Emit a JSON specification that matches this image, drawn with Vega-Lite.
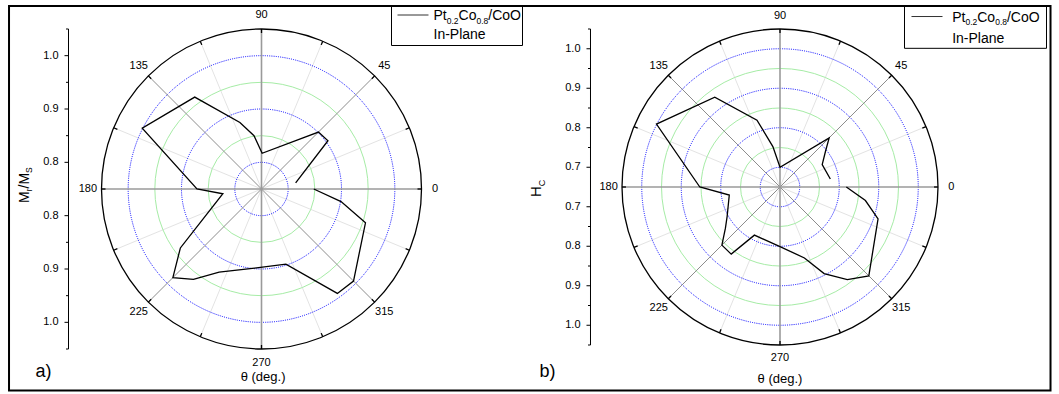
{
  "$schema": "https://vega.github.io/schema/vega-lite/v6.json",
  "padding": {"left": 7.5, "top": 5, "right": 0, "bottom": 0},
  "bounds": "flush",
  "spacing": 200.5,
  "config": {"view": {"stroke": null}, "font": "Liberation Sans"},
  "resolve": {"scale": {"x": "independent", "y": "independent", "size": "independent"}},
  "datasets": {
    "a": [{"angle":10,"r":0.815},{"angle":36,"r":0.904},{"angle":45,"r":0.901},{"angle":89,"r":0.817},{"angle":98,"r":0.851},{"angle":108,"r":0.881},{"angle":126,"r":0.963},{"angle":153,"r":1.001},{"angle":180,"r":0.871},{"angle":187,"r":0.823},{"angle":216,"r":0.938},{"angle":225,"r":0.985},{"angle":233,"r":0.962},{"angle":243,"r":0.925},{"angle":265,"r":0.899},{"angle":288,"r":0.898},{"angle":306,"r":0.992},{"angle":315,"r":0.994},{"angle":342,"r":0.955},{"angle":351,"r":0.901},{"angle":360,"r":0.848}],
    "b": [{"angle":9,"r":0.779},{"angle":28,"r":0.771},{"angle":38,"r":0.796},{"angle":45,"r":0.826},{"angle":90,"r":0.700},{"angle":100,"r":0.754},{"angle":109,"r":0.829},{"angle":126,"r":0.931},{"angle":153,"r":1.001},{"angle":180,"r":0.853},{"angle":189,"r":0.780},{"angle":209,"r":0.803},{"angle":217,"r":0.823},{"angle":225,"r":0.858},{"angle":234,"r":0.860},{"angle":242,"r":0.788},{"angle":270,"r":0.801},{"angle":289,"r":0.840},{"angle":297,"r":0.896},{"angle":306,"r":0.940},{"angle":315,"r":0.968},{"angle":342,"r":0.911},{"angle":351,"r":0.869},{"angle":360,"r":0.818}],
    "diam": [{"angle":0},{"angle":22.5},{"angle":45},{"angle":67.5},{"angle":90},{"angle":112.5},{"angle":135},{"angle":157.5}],
    "spokes": [{"angle":0},{"angle":22.5},{"angle":45},{"angle":67.5},{"angle":90},{"angle":112.5},{"angle":135},{"angle":157.5},{"angle":180},{"angle":202.5},{"angle":225},{"angle":247.5},{"angle":270},{"angle":292.5},{"angle":315},{"angle":337.5}],
    "alabels": [{"angle":0,"label":"0"},{"angle":45,"label":"45"},{"angle":90,"label":"90"},{"angle":135,"label":"135"},{"angle":180,"label":"180"},{"angle":225,"label":"225"},{"angle":270,"label":"270"},{"angle":315,"label":"315"}],
    "ringsAmajor": [{"r":0.8},{"r":0.9},{"r":1.0}],
    "ringsAminor": [{"r":0.85},{"r":0.95}],
    "ticksAminor": [{"r":0.85},{"r":0.95},{"r":1.05}],
    "ringsBmajor": [{"r":0.7},{"r":0.8},{"r":0.9},{"r":1.0}],
    "ringsBminor": [{"r":0.75},{"r":0.85},{"r":0.95}],
    "ticksBminor": [{"r":0.75},{"r":0.85},{"r":0.95},{"r":1.05}],
    "outer": [{"r":1.05}],
    "one": [{}]
  },
  "hconcat": [
    {
      "width": 320,
      "height": 320,
      "layer": [
        {"data": {"name": "a"}, "transform": [{"calculate": "(datum.r-0.75)*cos(datum.angle*PI/180)", "as": "px"}, {"calculate": "(datum.r-0.75)*sin(datum.angle*PI/180)", "as": "py"}],
         "mark": {"type": "line", "color": "black", "strokeWidth": 1.3, "opacity": 0},
         "encoding": {
           "x": {"field": "px", "type": "quantitative", "scale": {"domain": [-0.3, 0.3], "nice": false, "zero": false}, "axis": null},
           "y": {"field": "py", "type": "quantitative", "scale": {"domain": [-0.3, 0.3], "nice": false, "zero": false}, "axis": null},
           "order": {"field": "angle", "type": "quantitative"}}},
        {"data": {"name": "diam"}, "transform": [{"filter": "datum.angle % 45 != 0"}, {"calculate": "0.3*cos(datum.angle*PI/180)", "as": "ex"}, {"calculate": "0.3*sin(datum.angle*PI/180)", "as": "ey"}, {"calculate": "-datum.ex", "as": "sx"}, {"calculate": "-datum.ey", "as": "sy"}],
         "mark": {"type": "rule", "color": "#e3e3e3", "strokeWidth": 1},
         "encoding": {"x": {"field": "sx", "type": "quantitative", "axis": null}, "y": {"field": "sy", "type": "quantitative", "axis": null}, "x2": {"field": "ex"}, "y2": {"field": "ey"}}},
        {"data": {"name": "ringsAminor"}, "transform": [{"calculate": "datum.r-0.75", "as": "rr"}],
         "mark": {"type": "point", "shape": "circle", "filled": false, "opacity": 1, "stroke": "#a6eca6", "strokeWidth": 1},
         "encoding": {"x": {"datum": 0, "type": "quantitative", "axis": null}, "y": {"datum": 0, "type": "quantitative", "axis": null},
                      "size": {"field": "rr", "type": "quantitative", "legend": null, "scale": {"type": "pow", "exponent": 2, "zero": true, "domain": [0, 0.3], "range": [0, 102400]}}}},
        {"data": {"name": "ringsAmajor"}, "transform": [{"calculate": "datum.r-0.75", "as": "rr"}],
         "mark": {"type": "point", "shape": "circle", "filled": false, "opacity": 1, "stroke": "#0000ff", "strokeWidth": 1, "strokeDash": [1, 1.2]},
         "encoding": {"x": {"datum": 0, "type": "quantitative", "axis": null}, "y": {"datum": 0, "type": "quantitative", "axis": null},
                      "size": {"field": "rr", "type": "quantitative", "legend": null, "scale": {"type": "pow", "exponent": 2, "zero": true, "domain": [0, 0.3], "range": [0, 102400]}}}},
        {"data": {"name": "diam"}, "transform": [{"filter": "datum.angle % 90 == 45"}, {"calculate": "0.3*cos(datum.angle*PI/180)", "as": "ex"}, {"calculate": "0.3*sin(datum.angle*PI/180)", "as": "ey"}, {"calculate": "-datum.ex", "as": "sx"}, {"calculate": "-datum.ey", "as": "sy"}],
         "mark": {"type": "rule", "color": "#8c8c8c", "strokeWidth": 1},
         "encoding": {"x": {"field": "sx", "type": "quantitative", "axis": null}, "y": {"field": "sy", "type": "quantitative", "axis": null}, "x2": {"field": "ex"}, "y2": {"field": "ey"}}},
        {"data": {"name": "diam"}, "transform": [{"filter": "datum.angle % 90 == 0"}, {"calculate": "0.3*cos(datum.angle*PI/180)", "as": "ex"}, {"calculate": "0.3*sin(datum.angle*PI/180)", "as": "ey"}, {"calculate": "-datum.ex", "as": "sx"}, {"calculate": "-datum.ey", "as": "sy"}],
         "mark": {"type": "rule", "color": "#9a9a9a", "strokeWidth": 1.6},
         "encoding": {"x": {"field": "sx", "type": "quantitative", "axis": null}, "y": {"field": "sy", "type": "quantitative", "axis": null}, "x2": {"field": "ex"}, "y2": {"field": "ey"}}},
        {"data": {"name": "outer"}, "transform": [{"calculate": "datum.r-0.75", "as": "rr"}],
         "mark": {"type": "point", "shape": "circle", "filled": false, "opacity": 1, "stroke": "black", "strokeWidth": 1.3},
         "encoding": {"x": {"datum": 0, "type": "quantitative", "axis": null}, "y": {"datum": 0, "type": "quantitative", "axis": null},
                      "size": {"field": "rr", "type": "quantitative", "legend": null, "scale": {"type": "pow", "exponent": 2, "zero": true, "domain": [0, 0.3], "range": [0, 102400]}}}},
        {"data": {"name": "spokes"}, "transform": [{"calculate": "0.2925*cos(datum.angle*PI/180)", "as": "sx"}, {"calculate": "0.2925*sin(datum.angle*PI/180)", "as": "sy"}, {"calculate": "0.3*cos(datum.angle*PI/180)", "as": "ex"}, {"calculate": "0.3*sin(datum.angle*PI/180)", "as": "ey"}],
         "mark": {"type": "rule", "color": "black", "strokeWidth": 1.3},
         "encoding": {"x": {"field": "sx", "type": "quantitative", "axis": null}, "y": {"field": "sy", "type": "quantitative", "axis": null}, "x2": {"field": "ex"}, "y2": {"field": "ey"}}},
        {"data": {"name": "a"}, "transform": [{"calculate": "(datum.r-0.75)*cos(datum.angle*PI/180)", "as": "px"}, {"calculate": "(datum.r-0.75)*sin(datum.angle*PI/180)", "as": "py"}],
         "mark": {"type": "line", "color": "black", "strokeWidth": 1.3},
         "encoding": {"x": {"field": "px", "type": "quantitative", "axis": null}, "y": {"field": "py", "type": "quantitative", "axis": null}, "order": {"field": "angle", "type": "quantitative"}}},
        {"data": {"name": "alabels"}, "transform": [{"calculate": "0.3255*cos(datum.angle*PI/180)", "as": "lx"}, {"calculate": "0.3255*sin(datum.angle*PI/180)", "as": "ly"}],
         "mark": {"type": "text", "fontSize": 11, "color": "black", "align": "center", "baseline": "middle"},
         "encoding": {"x": {"field": "lx", "type": "quantitative", "axis": null}, "y": {"field": "ly", "type": "quantitative", "axis": null}, "text": {"field": "label", "type": "nominal"}}},
        {"data": {"name": "outer"}, "transform": [{"calculate": "-0.361875", "as": "ax"}, {"calculate": "datum.r-0.75", "as": "ya"}, {"calculate": "0.75-datum.r", "as": "yb"}],
         "mark": {"type": "rule", "color": "black", "strokeWidth": 1},
         "encoding": {"x": {"field": "ax", "type": "quantitative", "axis": null}, "y": {"field": "ya", "type": "quantitative", "axis": null}, "y2": {"field": "yb"}}},
        {"data": {"name": "ringsAmajor"}, "transform": [{"calculate": "-0.369375", "as": "t1"}, {"calculate": "-0.361875", "as": "t2"}, {"calculate": "datum.r-0.75", "as": "ty"}],
         "mark": {"type": "rule", "color": "black", "strokeWidth": 1},
         "encoding": {"x": {"field": "t1", "type": "quantitative", "axis": null}, "x2": {"field": "t2"}, "y": {"field": "ty", "type": "quantitative", "axis": null}}},
        {"data": {"name": "ringsAmajor"}, "transform": [{"calculate": "-0.369375", "as": "t1"}, {"calculate": "-0.361875", "as": "t2"}, {"calculate": "0.75-datum.r", "as": "ty"}],
         "mark": {"type": "rule", "color": "black", "strokeWidth": 1},
         "encoding": {"x": {"field": "t1", "type": "quantitative", "axis": null}, "x2": {"field": "t2"}, "y": {"field": "ty", "type": "quantitative", "axis": null}}},
        {"data": {"name": "ticksAminor"}, "transform": [{"calculate": "-0.3665625", "as": "t1"}, {"calculate": "-0.361875", "as": "t2"}, {"calculate": "datum.r-0.75", "as": "ty"}],
         "mark": {"type": "rule", "color": "black", "strokeWidth": 1},
         "encoding": {"x": {"field": "t1", "type": "quantitative", "axis": null}, "x2": {"field": "t2"}, "y": {"field": "ty", "type": "quantitative", "axis": null}}},
        {"data": {"name": "ticksAminor"}, "transform": [{"calculate": "-0.3665625", "as": "t1"}, {"calculate": "-0.361875", "as": "t2"}, {"calculate": "0.75-datum.r", "as": "ty"}],
         "mark": {"type": "rule", "color": "black", "strokeWidth": 1},
         "encoding": {"x": {"field": "t1", "type": "quantitative", "axis": null}, "x2": {"field": "t2"}, "y": {"field": "ty", "type": "quantitative", "axis": null}}},
        {"data": {"name": "ringsAmajor"}, "transform": [{"calculate": "-0.380625", "as": "tx"}, {"calculate": "datum.r-0.75", "as": "ty"}],
         "mark": {"type": "text", "fontSize": 11, "color": "black", "align": "right", "baseline": "middle"},
         "encoding": {"x": {"field": "tx", "type": "quantitative", "axis": null}, "y": {"field": "ty", "type": "quantitative", "axis": null}, "text": {"field": "r", "type": "quantitative", "format": ".1f"}}},
        {"data": {"name": "ringsAmajor"}, "transform": [{"calculate": "-0.380625", "as": "tx"}, {"calculate": "0.75-datum.r", "as": "ty"}],
         "mark": {"type": "text", "fontSize": 11, "color": "black", "align": "right", "baseline": "middle"},
         "encoding": {"x": {"field": "tx", "type": "quantitative", "axis": null}, "y": {"field": "ty", "type": "quantitative", "axis": null}, "text": {"field": "r", "type": "quantitative", "format": ".1f"}}},
        {"data": {"name": "one"}, "transform": [{"calculate": "0.24375", "as": "bx1"}, {"calculate": "0.48938", "as": "bx2"}, {"calculate": "0.3431", "as": "by1"}, {"calculate": "0.26906", "as": "by2"}],
         "mark": {"type": "rect", "filled": false, "stroke": "black", "strokeWidth": 1},
         "encoding": {"x": {"field": "bx1", "type": "quantitative", "axis": null}, "x2": {"field": "bx2"}, "y": {"field": "by1", "type": "quantitative", "axis": null}, "y2": {"field": "by2"}}},
        {"data": {"name": "one"}, "transform": [{"calculate": "0.255", "as": "lx1"}, {"calculate": "0.3131", "as": "lx2"}, {"calculate": "0.32625", "as": "ly1"}],
         "mark": {"type": "rule", "stroke": "#333333", "strokeWidth": 1},
         "encoding": {"x": {"field": "lx1", "type": "quantitative", "axis": null}, "x2": {"field": "lx2"}, "y": {"field": "ly1", "type": "quantitative", "axis": null}}},
        {"data": {"name": "one"}, "mark": {"type": "text", "text": "Pt", "fontSize": 14, "align": "left", "baseline": "alphabetic", "color": "black"},
         "encoding": {"x": {"datum": 0.3225, "type": "quantitative", "axis": null}, "y": {"datum": 0.31688, "type": "quantitative", "axis": null}}},
        {"data": {"name": "one"}, "mark": {"type": "text", "text": "0.2", "fontSize": 8.5, "align": "left", "baseline": "alphabetic", "color": "black"},
         "encoding": {"x": {"datum": 0.34731, "type": "quantitative", "axis": null}, "y": {"datum": 0.31031, "type": "quantitative", "axis": null}}},
        {"data": {"name": "one"}, "mark": {"type": "text", "text": "Co", "fontSize": 14, "align": "left", "baseline": "alphabetic", "color": "black"},
         "encoding": {"x": {"datum": 0.36947, "type": "quantitative", "axis": null}, "y": {"datum": 0.31688, "type": "quantitative", "axis": null}}},
        {"data": {"name": "one"}, "mark": {"type": "text", "text": "0.8", "fontSize": 8.5, "align": "left", "baseline": "alphabetic", "color": "black"},
         "encoding": {"x": {"datum": 0.40303, "type": "quantitative", "axis": null}, "y": {"datum": 0.31031, "type": "quantitative", "axis": null}}},
        {"data": {"name": "one"}, "mark": {"type": "text", "text": "/CoO", "fontSize": 14, "align": "left", "baseline": "alphabetic", "color": "black"},
         "encoding": {"x": {"datum": 0.42519, "type": "quantitative", "axis": null}, "y": {"datum": 0.31688, "type": "quantitative", "axis": null}}},
        {"data": {"name": "one"}, "mark": {"type": "text", "text": "In-Plane", "fontSize": 14, "align": "left", "baseline": "alphabetic", "color": "black"},
         "encoding": {"x": {"datum": 0.3225, "type": "quantitative", "axis": null}, "y": {"datum": 0.2807, "type": "quantitative", "axis": null}}},
        {"data": {"name": "one"}, "mark": {"type": "text", "text": "M", "fontSize": 14, "angle": 270, "align": "left", "baseline": "alphabetic", "color": "black"},
         "encoding": {"x": {"datum": -0.43594, "type": "quantitative", "axis": null}, "y": {"datum": -0.02625, "type": "quantitative", "axis": null}}},
        {"data": {"name": "one"}, "mark": {"type": "text", "text": "r", "fontSize": 8.5, "angle": 270, "align": "left", "baseline": "alphabetic", "color": "black"},
         "encoding": {"x": {"datum": -0.43031, "type": "quantitative", "axis": null}, "y": {"datum": -0.00439, "type": "quantitative", "axis": null}}},
        {"data": {"name": "one"}, "mark": {"type": "text", "text": "/M", "fontSize": 14, "angle": 270, "align": "left", "baseline": "alphabetic", "color": "black"},
         "encoding": {"x": {"datum": -0.43594, "type": "quantitative", "axis": null}, "y": {"datum": 0.00094, "type": "quantitative", "axis": null}}},
        {"data": {"name": "one"}, "mark": {"type": "text", "text": "S", "fontSize": 8.5, "angle": 270, "align": "left", "baseline": "alphabetic", "color": "black"},
         "encoding": {"x": {"datum": -0.43031, "type": "quantitative", "axis": null}, "y": {"datum": 0.03009, "type": "quantitative", "axis": null}}},
        {"data": {"name": "one"}, "mark": {"type": "text", "text": "a)", "fontSize": 18, "align": "left", "baseline": "alphabetic", "color": "black"},
         "encoding": {"x": {"datum": -0.42375, "type": "quantitative", "axis": null}, "y": {"datum": -0.3525, "type": "quantitative", "axis": null}}},
        {"data": {"name": "one"}, "mark": {"type": "text", "text": "θ (deg.)", "fontSize": 13, "align": "center", "baseline": "alphabetic", "color": "black"},
         "encoding": {"x": {"datum": 0.003, "type": "quantitative", "axis": null}, "y": {"datum": -0.3609, "type": "quantitative", "axis": null}}},
        {"data": {"name": "one"}, "transform": [{"calculate": "-0.4734", "as": "fx1"}, {"calculate": "1.4794", "as": "fx2"}, {"calculate": "0.3431", "as": "fy1"}, {"calculate": "-0.3778", "as": "fy2"}],
         "mark": {"type": "rect", "filled": false, "stroke": "black", "strokeWidth": 2},
         "encoding": {"x": {"field": "fx1", "type": "quantitative", "axis": null}, "x2": {"field": "fx2"}, "y": {"field": "fy1", "type": "quantitative", "axis": null}, "y2": {"field": "fy2"}}}
      ]
    },
    {
      "width": 316,
      "height": 316,
      "layer": [
        {"data": {"name": "b"}, "transform": [{"calculate": "(datum.r-0.65)*cos(datum.angle*PI/180)", "as": "px"}, {"calculate": "(datum.r-0.65)*sin(datum.angle*PI/180)", "as": "py"}],
         "mark": {"type": "line", "color": "black", "strokeWidth": 1.3, "opacity": 0},
         "encoding": {
           "x": {"field": "px", "type": "quantitative", "scale": {"domain": [-0.4, 0.4], "nice": false, "zero": false}, "axis": null},
           "y": {"field": "py", "type": "quantitative", "scale": {"domain": [-0.4, 0.4], "nice": false, "zero": false}, "axis": null},
           "order": {"field": "angle", "type": "quantitative"}}},
        {"data": {"name": "diam"}, "transform": [{"filter": "datum.angle % 45 != 0"}, {"calculate": "0.4*cos(datum.angle*PI/180)", "as": "ex"}, {"calculate": "0.4*sin(datum.angle*PI/180)", "as": "ey"}, {"calculate": "-datum.ex", "as": "sx"}, {"calculate": "-datum.ey", "as": "sy"}],
         "mark": {"type": "rule", "color": "#e3e3e3", "strokeWidth": 1},
         "encoding": {"x": {"field": "sx", "type": "quantitative", "axis": null}, "y": {"field": "sy", "type": "quantitative", "axis": null}, "x2": {"field": "ex"}, "y2": {"field": "ey"}}},
        {"data": {"name": "ringsBminor"}, "transform": [{"calculate": "datum.r-0.65", "as": "rr"}],
         "mark": {"type": "point", "shape": "circle", "filled": false, "opacity": 1, "stroke": "#a6eca6", "strokeWidth": 1},
         "encoding": {"x": {"datum": 0, "type": "quantitative", "axis": null}, "y": {"datum": 0, "type": "quantitative", "axis": null},
                      "size": {"field": "rr", "type": "quantitative", "legend": null, "scale": {"type": "pow", "exponent": 2, "zero": true, "domain": [0, 0.4], "range": [0, 99856]}}}},
        {"data": {"name": "ringsBmajor"}, "transform": [{"calculate": "datum.r-0.65", "as": "rr"}],
         "mark": {"type": "point", "shape": "circle", "filled": false, "opacity": 1, "stroke": "#0000ff", "strokeWidth": 1, "strokeDash": [1, 1.2]},
         "encoding": {"x": {"datum": 0, "type": "quantitative", "axis": null}, "y": {"datum": 0, "type": "quantitative", "axis": null},
                      "size": {"field": "rr", "type": "quantitative", "legend": null, "scale": {"type": "pow", "exponent": 2, "zero": true, "domain": [0, 0.4], "range": [0, 99856]}}}},
        {"data": {"name": "diam"}, "transform": [{"filter": "datum.angle % 90 == 45"}, {"calculate": "0.4*cos(datum.angle*PI/180)", "as": "ex"}, {"calculate": "0.4*sin(datum.angle*PI/180)", "as": "ey"}, {"calculate": "-datum.ex", "as": "sx"}, {"calculate": "-datum.ey", "as": "sy"}],
         "mark": {"type": "rule", "color": "#8c8c8c", "strokeWidth": 1},
         "encoding": {"x": {"field": "sx", "type": "quantitative", "axis": null}, "y": {"field": "sy", "type": "quantitative", "axis": null}, "x2": {"field": "ex"}, "y2": {"field": "ey"}}},
        {"data": {"name": "diam"}, "transform": [{"filter": "datum.angle % 90 == 0"}, {"calculate": "0.4*cos(datum.angle*PI/180)", "as": "ex"}, {"calculate": "0.4*sin(datum.angle*PI/180)", "as": "ey"}, {"calculate": "-datum.ex", "as": "sx"}, {"calculate": "-datum.ey", "as": "sy"}],
         "mark": {"type": "rule", "color": "#9a9a9a", "strokeWidth": 1.6},
         "encoding": {"x": {"field": "sx", "type": "quantitative", "axis": null}, "y": {"field": "sy", "type": "quantitative", "axis": null}, "x2": {"field": "ex"}, "y2": {"field": "ey"}}},
        {"data": {"name": "outer"}, "transform": [{"calculate": "datum.r-0.65", "as": "rr"}],
         "mark": {"type": "point", "shape": "circle", "filled": false, "opacity": 1, "stroke": "black", "strokeWidth": 1.3},
         "encoding": {"x": {"datum": 0, "type": "quantitative", "axis": null}, "y": {"datum": 0, "type": "quantitative", "axis": null},
                      "size": {"field": "rr", "type": "quantitative", "legend": null, "scale": {"type": "pow", "exponent": 2, "zero": true, "domain": [0, 0.4], "range": [0, 99856]}}}},
        {"data": {"name": "spokes"}, "transform": [{"calculate": "0.39*cos(datum.angle*PI/180)", "as": "sx"}, {"calculate": "0.39*sin(datum.angle*PI/180)", "as": "sy"}, {"calculate": "0.4*cos(datum.angle*PI/180)", "as": "ex"}, {"calculate": "0.4*sin(datum.angle*PI/180)", "as": "ey"}],
         "mark": {"type": "rule", "color": "black", "strokeWidth": 1.3},
         "encoding": {"x": {"field": "sx", "type": "quantitative", "axis": null}, "y": {"field": "sy", "type": "quantitative", "axis": null}, "x2": {"field": "ex"}, "y2": {"field": "ey"}}},
        {"data": {"name": "b"}, "transform": [{"calculate": "(datum.r-0.65)*cos(datum.angle*PI/180)", "as": "px"}, {"calculate": "(datum.r-0.65)*sin(datum.angle*PI/180)", "as": "py"}],
         "mark": {"type": "line", "color": "black", "strokeWidth": 1.3},
         "encoding": {"x": {"field": "px", "type": "quantitative", "axis": null}, "y": {"field": "py", "type": "quantitative", "axis": null}, "order": {"field": "angle", "type": "quantitative"}}},
        {"data": {"name": "alabels"}, "transform": [{"calculate": "0.434*cos(datum.angle*PI/180)", "as": "lx"}, {"calculate": "0.434*sin(datum.angle*PI/180)", "as": "ly"}],
         "mark": {"type": "text", "fontSize": 11, "color": "black", "align": "center", "baseline": "middle"},
         "encoding": {"x": {"field": "lx", "type": "quantitative", "axis": null}, "y": {"field": "ly", "type": "quantitative", "axis": null}, "text": {"field": "label", "type": "nominal"}}},
        {"data": {"name": "outer"}, "transform": [{"calculate": "-0.479747", "as": "ax"}, {"calculate": "datum.r-0.65", "as": "ya"}, {"calculate": "0.65-datum.r", "as": "yb"}],
         "mark": {"type": "rule", "color": "black", "strokeWidth": 1},
         "encoding": {"x": {"field": "ax", "type": "quantitative", "axis": null}, "y": {"field": "ya", "type": "quantitative", "axis": null}, "y2": {"field": "yb"}}},
        {"data": {"name": "ringsBmajor"}, "transform": [{"calculate": "-0.489874", "as": "t1"}, {"calculate": "-0.479747", "as": "t2"}, {"calculate": "datum.r-0.65", "as": "ty"}],
         "mark": {"type": "rule", "color": "black", "strokeWidth": 1},
         "encoding": {"x": {"field": "t1", "type": "quantitative", "axis": null}, "x2": {"field": "t2"}, "y": {"field": "ty", "type": "quantitative", "axis": null}}},
        {"data": {"name": "ringsBmajor"}, "transform": [{"calculate": "-0.489874", "as": "t1"}, {"calculate": "-0.479747", "as": "t2"}, {"calculate": "0.65-datum.r", "as": "ty"}],
         "mark": {"type": "rule", "color": "black", "strokeWidth": 1},
         "encoding": {"x": {"field": "t1", "type": "quantitative", "axis": null}, "x2": {"field": "t2"}, "y": {"field": "ty", "type": "quantitative", "axis": null}}},
        {"data": {"name": "ticksBminor"}, "transform": [{"calculate": "-0.486076", "as": "t1"}, {"calculate": "-0.479747", "as": "t2"}, {"calculate": "datum.r-0.65", "as": "ty"}],
         "mark": {"type": "rule", "color": "black", "strokeWidth": 1},
         "encoding": {"x": {"field": "t1", "type": "quantitative", "axis": null}, "x2": {"field": "t2"}, "y": {"field": "ty", "type": "quantitative", "axis": null}}},
        {"data": {"name": "ticksBminor"}, "transform": [{"calculate": "-0.486076", "as": "t1"}, {"calculate": "-0.479747", "as": "t2"}, {"calculate": "0.65-datum.r", "as": "ty"}],
         "mark": {"type": "rule", "color": "black", "strokeWidth": 1},
         "encoding": {"x": {"field": "t1", "type": "quantitative", "axis": null}, "x2": {"field": "t2"}, "y": {"field": "ty", "type": "quantitative", "axis": null}}},
        {"data": {"name": "ringsBmajor"}, "transform": [{"calculate": "-0.505063", "as": "tx"}, {"calculate": "datum.r-0.65", "as": "ty"}],
         "mark": {"type": "text", "fontSize": 11, "color": "black", "align": "right", "baseline": "middle"},
         "encoding": {"x": {"field": "tx", "type": "quantitative", "axis": null}, "y": {"field": "ty", "type": "quantitative", "axis": null}, "text": {"field": "r", "type": "quantitative", "format": ".1f"}}},
        {"data": {"name": "ringsBmajor"}, "transform": [{"calculate": "-0.505063", "as": "tx"}, {"calculate": "0.65-datum.r", "as": "ty"}],
         "mark": {"type": "text", "fontSize": 11, "color": "black", "align": "right", "baseline": "middle"},
         "encoding": {"x": {"field": "tx", "type": "quantitative", "axis": null}, "y": {"field": "ty", "type": "quantitative", "axis": null}, "text": {"field": "r", "type": "quantitative", "format": ".1f"}}},
        {"data": {"name": "one"}, "transform": [{"calculate": "0.3152", "as": "bx1"}, {"calculate": "0.6747", "as": "bx2"}, {"calculate": "0.4582", "as": "by1"}, {"calculate": "0.3511", "as": "by2"}],
         "mark": {"type": "rect", "filled": false, "stroke": "black", "strokeWidth": 1},
         "encoding": {"x": {"field": "bx1", "type": "quantitative", "axis": null}, "x2": {"field": "bx2"}, "y": {"field": "by1", "type": "quantitative", "axis": null}, "y2": {"field": "by2"}}},
        {"data": {"name": "one"}, "transform": [{"calculate": "0.3329", "as": "lx1"}, {"calculate": "0.4114", "as": "lx2"}, {"calculate": "0.4316", "as": "ly1"}],
         "mark": {"type": "rule", "stroke": "#333333", "strokeWidth": 1},
         "encoding": {"x": {"field": "lx1", "type": "quantitative", "axis": null}, "x2": {"field": "lx2"}, "y": {"field": "ly1", "type": "quantitative", "axis": null}}},
        {"data": {"name": "one"}, "mark": {"type": "text", "text": "Pt", "fontSize": 14, "align": "left", "baseline": "alphabetic", "color": "black"},
         "encoding": {"x": {"datum": 0.4359, "type": "quantitative", "axis": null}, "y": {"datum": 0.4185, "type": "quantitative", "axis": null}}},
        {"data": {"name": "one"}, "mark": {"type": "text", "text": "0.2", "fontSize": 8.5, "align": "left", "baseline": "alphabetic", "color": "black"},
         "encoding": {"x": {"datum": 0.4694, "type": "quantitative", "axis": null}, "y": {"datum": 0.4096, "type": "quantitative", "axis": null}}},
        {"data": {"name": "one"}, "mark": {"type": "text", "text": "Co", "fontSize": 14, "align": "left", "baseline": "alphabetic", "color": "black"},
         "encoding": {"x": {"datum": 0.4994, "type": "quantitative", "axis": null}, "y": {"datum": 0.4185, "type": "quantitative", "axis": null}}},
        {"data": {"name": "one"}, "mark": {"type": "text", "text": "0.8", "fontSize": 8.5, "align": "left", "baseline": "alphabetic", "color": "black"},
         "encoding": {"x": {"datum": 0.5447, "type": "quantitative", "axis": null}, "y": {"datum": 0.4096, "type": "quantitative", "axis": null}}},
        {"data": {"name": "one"}, "mark": {"type": "text", "text": "/CoO", "fontSize": 14, "align": "left", "baseline": "alphabetic", "color": "black"},
         "encoding": {"x": {"datum": 0.5746, "type": "quantitative", "axis": null}, "y": {"datum": 0.4185, "type": "quantitative", "axis": null}}},
        {"data": {"name": "one"}, "mark": {"type": "text", "text": "In-Plane", "fontSize": 14, "align": "left", "baseline": "alphabetic", "color": "black"},
         "encoding": {"x": {"datum": 0.4359, "type": "quantitative", "axis": null}, "y": {"datum": 0.3646, "type": "quantitative", "axis": null}}},
        {"data": {"name": "one"}, "mark": {"type": "text", "text": "H", "fontSize": 15, "angle": 270, "align": "left", "baseline": "alphabetic", "color": "black"},
         "encoding": {"x": {"datum": -0.6038, "type": "quantitative", "axis": null}, "y": {"datum": -0.0253, "type": "quantitative", "axis": null}}},
        {"data": {"name": "one"}, "mark": {"type": "text", "text": "C", "fontSize": 9, "angle": 270, "align": "left", "baseline": "alphabetic", "color": "black"},
         "encoding": {"x": {"datum": -0.5962, "type": "quantitative", "axis": null}, "y": {"datum": 0.0021, "type": "quantitative", "axis": null}}},
        {"data": {"name": "one"}, "mark": {"type": "text", "text": "b)", "fontSize": 18, "align": "left", "baseline": "alphabetic", "color": "black"},
         "encoding": {"x": {"datum": -0.6089, "type": "quantitative", "axis": null}, "y": {"datum": -0.481, "type": "quantitative", "axis": null}}},
        {"data": {"name": "one"}, "mark": {"type": "text", "text": "θ (deg.)", "fontSize": 13, "align": "center", "baseline": "alphabetic", "color": "black"},
         "encoding": {"x": {"datum": 0, "type": "quantitative", "axis": null}, "y": {"datum": -0.4962, "type": "quantitative", "axis": null}}}
      ]
    }
  ]
}
